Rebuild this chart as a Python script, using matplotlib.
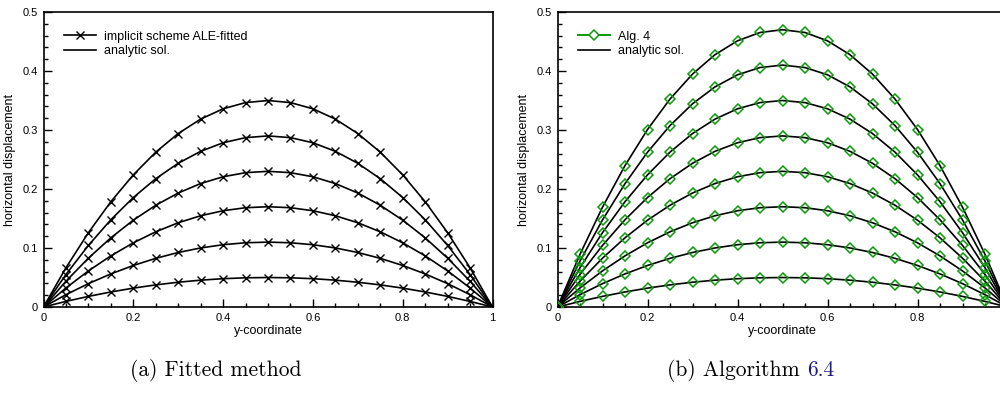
import matplotlib
matplotlib.use("Agg")
import matplotlib.pyplot as plt
import numpy as np
from matplotlib.ticker import MultipleLocator, FuncFormatter

# y-coordinate nodes (0 .. 1 step 0.05)
y_nodes = [0.0, 0.05, 0.10, 0.15, 0.20, 0.25, 0.30, 0.35, 0.40, 0.45, 0.50,
           0.55, 0.60, 0.65, 0.70, 0.75, 0.80, 0.85, 0.90, 0.95, 1.0]
# normalised displacement profile read at the nodes
profile = [0.0, 0.19, 0.36, 0.51, 0.64, 0.75, 0.84, 0.91, 0.96, 0.99, 1.0,
           0.99, 0.96, 0.91, 0.84, 0.75, 0.64, 0.51, 0.36, 0.19, 0.0]
# peak displacements of each time level
peaks_a = [0.05, 0.11, 0.17, 0.23, 0.29, 0.35]
peaks_b = [0.05, 0.11, 0.17, 0.23, 0.29, 0.35, 0.41, 0.47]

legend_a = ["implicit scheme ALE-fitted", "analytic sol."]
legend_b = ["Alg. 4", "analytic sol."]
xlabel = "y-coordinate"
ylabel = "horizontal displacement"

plt.rcParams['font.family'] = ['Liberation Sans', 'DejaVu Sans']

fig = plt.figure(figsize=(10, 3.93), dpi=100)
ax1 = fig.add_axes([0.0435, 0.2188, 0.449, 0.7506])
ax2 = fig.add_axes([0.5575, 0.2188, 0.450, 0.7506])

yn = np.array(y_nodes)
pr = np.array(profile)
green = '#0a9a0a'

def fmt(v, pos):
    if abs(v) < 1e-9:
        return "0"
    if abs(v - 1) < 1e-9:
        return "1"
    return ("%.1f" % v)

def fmt_b(v, pos):
    if abs(v - 1) < 1e-9:
        return ""
    return fmt(v, pos)

for ax in (ax1, ax2):
    ax.set_xlim(0, 1)
    ax.set_ylim(0, 0.5)
    ax.xaxis.set_major_locator(MultipleLocator(0.2))
    ax.xaxis.set_minor_locator(MultipleLocator(0.05))
    ax.yaxis.set_major_locator(MultipleLocator(0.1))
    ax.yaxis.set_minor_locator(MultipleLocator(0.02))
    ax.xaxis.set_major_formatter(FuncFormatter(fmt))
    ax.yaxis.set_major_formatter(FuncFormatter(fmt))
    ax.tick_params(which='both', direction='in', top=False, right=False,
                   labelsize=8, width=1.0)
    ax.tick_params(which='major', length=6, pad=4)
    ax.tick_params(which='minor', length=3)
    for s in ax.spines.values():
        s.set_linewidth(1.2)
    ax.set_xlabel(xlabel, fontsize=9, labelpad=2)
    ax.set_ylabel(ylabel, fontsize=9, labelpad=5)
ax2.xaxis.set_major_formatter(FuncFormatter(fmt_b))

# (a)
for i, p in enumerate(peaks_a):
    vals = p * pr
    ax1.plot(yn, vals, color='black', lw=1.2, zorder=2)
    ax1.plot(yn, vals, linestyle='none', marker='x', color='black', ms=6,
             mew=1.0, zorder=3)
h1, = ax1.plot([], [], color='black', lw=1.2, marker='x', ms=6, mew=1.0)
h2, = ax1.plot([], [], color='black', lw=1.2)
ax1.legend([h1, h2], legend_a, loc='upper left', frameon=False, fontsize=9,
           bbox_to_anchor=(0.02, 0.975), handlelength=2.6, labelspacing=0.2,
           handletextpad=0.6)

# (b)
for i, p in enumerate(peaks_b):
    vals = p * pr
    ax2.plot(yn, vals, color='black', lw=1.2, zorder=2)
    ax2.plot(yn, vals, linestyle='none', marker='D', mfc='none', mec=green,
             ms=5.5, mew=1.1, zorder=3)
g1, = ax2.plot([], [], color=green, lw=1.4, marker='D', mfc='white', mec=green,
               ms=5.5, mew=1.1)
g2, = ax2.plot([], [], color='black', lw=1.2)
ax2.legend([g1, g2], legend_b, loc='upper left', frameon=False, fontsize=9,
           bbox_to_anchor=(0.02, 0.975), handlelength=2.6, labelspacing=0.2,
           handletextpad=0.6)

cap_font = dict(family='cmr10', fontsize=15.5, va='center')
fig.text(0.13, 0.058, "(a) Fitted method", ha='left', **cap_font)
t = fig.text(0.667, 0.058, "(b) Algorithm ", ha='left', **cap_font)
fig.canvas.draw()
bb = t.get_window_extent()
x_end = fig.transFigure.inverted().transform((bb.x1, bb.y0))[0]
fig.text(x_end, 0.058, "6.4", ha='left', color='#1a1a8c', **cap_font)

fig.savefig("out.png", dpi=100)
